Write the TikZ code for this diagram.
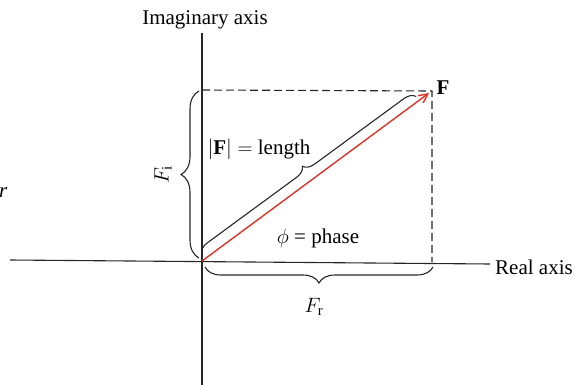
\documentclass[tikz,border=0pt]{standalone}
\usepackage{fontspec}
\setmainfont{Liberation Serif}
\usetikzlibrary{decorations.pathreplacing,arrows.meta,calc}
\definecolor{vecred}{RGB}{222,52,40}
\begin{document}
\begin{tikzpicture}[x=1pt,y=-1pt,
  axis/.style={line width=1.1pt,black!85},
  guide/.style={line width=1.1pt,black!85,dash pattern=on 8pt off 4pt},
  bracestyle/.style={line width=1.1pt,black!85,decorate,decoration={brace,amplitude=#1}},
  lbl/.style={font=\fontsize{21}{25}\selectfont,inner sep=1pt}]
\useasboundingbox (0,0) rectangle (575,385);
\coordinate (O) at (202,261);
\coordinate (F) at (432,91);
\coordinate (Ytop) at (202,33);
\coordinate (Ybot) at (202,385);
\coordinate (Xl) at (10,260);
\coordinate (Xr) at (490,264);
\coordinate (Fx) at (432,262);
\coordinate (Fy) at (202,90);
% axes
\draw[axis] (Xl) -- (Xr);
\draw[axis] (Ytop) -- (Ybot);
% dashed guides
\draw[guide] (Fy) -- (F) -- (Fx);
% length brace
\coordinate (bs) at ($(O)!6pt!90:(F)$);
\coordinate (be) at ($(F)!5pt!-90:(O)$);
\draw[bracestyle=11pt] ($(bs)!4pt!(be)$) -- ($(be)!16pt!(bs)$);
% vector
\draw[vecred,line width=1.4pt,-{Straight Barb[length=9pt,width=9pt]}] (O) -- ($(F)+(-3,2)$);
% F_i brace
\draw[bracestyle=18pt] (199,258) -- (199,91);
% F_r brace
\draw[bracestyle=16pt] (433,267) -- (205,267);
% labels
\node[lbl] (imag) at (205,20) {Imaginary axis};
\node[lbl,anchor=west] (real) at (494,267) {Real axis};
\node[lbl] (Flbl) at (443,88) {\textbf{F}};
\node[lbl] (len) at (259,149) {$|\mathbf{F}| = $ length};
\node[lbl] (phase) at (318,238) {$\phi$ = phase};
\node[lbl,rotate=90] (Fi) at (163,175) {$F_{\mathrm{i}}$};
\node[lbl] (Fr) at (314,307) {$F_{\mathrm{r}}$};
\node[lbl,anchor=base west,inner sep=0pt] (stray) at (-1,197) {\textit{r}};
\end{tikzpicture}
\end{document}
